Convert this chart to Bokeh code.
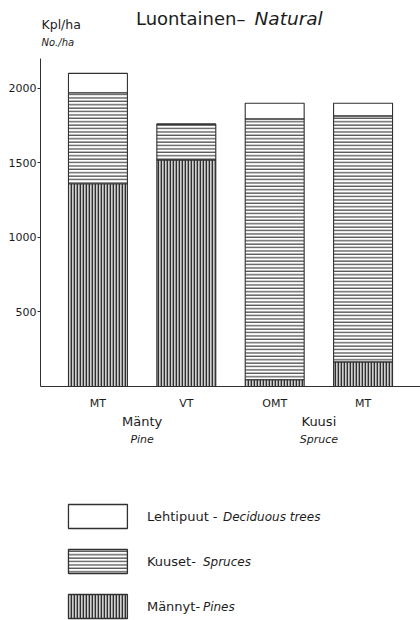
from bokeh.plotting import figure
from bokeh.models import ColumnDataSource, FactorRange, Range1d, FixedTicker, Label
from bokeh.layouts import column
from bokeh.embed import file_html
from bokeh.resources import INLINE
from bokeh.core.properties import value

# Stands: outer group (English), species (Finnish), site type
species_en = ["Pine", "Pine", "Spruce", "Spruce"]
species_fi = ["Mänty", "Mänty", "Kuusi", "Kuusi"]
site_types = ["MT", "VT", "OMT", "MT"]

# Stems per hectare by tree species, stacked bottom to top
pines = [1360, 1520, 45, 165]
spruces = [610, 240, 1750, 1650]
deciduous = [130, 0, 105, 85]

y_ticks = [500, 1000, 1500, 2000]
y_axis_max = 2200

series_keys = ["pines", "spruces", "deciduous"]
series_fi = ["Männyt-", "Kuuset-", "Lehtipuut -"]
series_en = ["Pines", "Spruces", "Deciduous trees"]

# ---- styling ----
FONT = "DejaVu Sans"
INK = "#1c1c1c"
LINE = "#303030"
hatch_patterns = ["vertical_line", "horizontal_line", "blank"]
hatch_scales = [3, 3.4, 3]
hatch_weights = [1.7, 1.1, 1]
fill_colors = ["#cfcfcf", "white", "white"]
BAR_W = 0.667

FRAME_H = 386                      # plot frame spans the canvas top down to the baseline
Y_HEAD = y_axis_max * FRAME_H / 328  # headroom above the axis for the heading texts

stands = list(zip(species_en, species_fi, site_types))
src = ColumnDataSource(dict(stand=stands, pines=pines, spruces=spruces, deciduous=deciduous))

x_range = FactorRange(*stands, factor_padding=0, subgroup_padding=0, group_padding=0,
                      range_padding=0.15, range_padding_units="absolute")

p = figure(width=420, height=450, x_range=x_range, y_range=Range1d(0, Y_HEAD),
           output_backend="svg", toolbar_location=None, title=None,
           min_border_left=40, min_border_right=0, min_border_top=0,
           min_border_bottom=450 - FRAME_H)
p.outline_line_color = None
p.grid.visible = False
p.background_fill_color = "white"
p.border_fill_color = "white"

p.vbar_stack(series_keys, x="stand", width=BAR_W, source=src,
             fill_color=fill_colors, line_color=LINE, line_width=1.1,
             hatch_pattern=hatch_patterns, hatch_scale=hatch_scales,
             hatch_weight=hatch_weights, hatch_color=LINE)

# y axis
yax = p.yaxis[0]
yax.bounds = (0, y_axis_max)
yax.ticker = FixedTicker(ticks=y_ticks)
yax.minor_tick_line_color = None
yax.major_tick_in = 0
yax.major_tick_out = 3
yax.major_label_standoff = 1
yax.axis_line_color = LINE
yax.major_tick_line_color = LINE
yax.major_label_text_font = FONT
yax.major_label_text_font_size = "11px"
yax.major_label_text_color = INK

# x axis: site type / species / English name
xax = p.xaxis[0]
xax.major_tick_in = 0
xax.major_tick_out = 9          # invisible; only offsets the label rows
xax.major_tick_line_color = None
xax.axis_line_color = LINE
xax.separator_line_color = None
xax.major_label_standoff = 1
xax.major_label_text_font = FONT
xax.major_label_text_font_size = "11px"
xax.major_label_text_color = INK
xax.subgroup_text_font = FONT
xax.subgroup_text_font_size = "13px"
xax.subgroup_text_font_style = "normal"
xax.subgroup_text_color = INK
xax.group_text_font = FONT
xax.group_text_font_size = "11px"
xax.group_text_font_style = "italic"
xax.group_text_color = INK

# Heading and unit labels (screen px from the frame's bottom-left)
def add_label(text, x, y, size, style="normal", align="left"):
    p.add_layout(Label(x=x, y=y, x_units="screen", y_units="screen", text=text,
                       text_font=FONT, text_font_size=size, text_font_style=style,
                       text_color=INK, text_align=align, text_baseline="alphabetic"))

add_label("Luontainen–", 205, 368, "18px", align="right")
add_label("Natural", 214, 368, "18.5px", style="italic")
add_label("Kpl/ha", 1, 362, "12.5px")
add_label("No./ha", 1, 344, "10px", style="italic")

# ---- legend panel ----
leg = figure(width=420, height=170, x_range=x_range, y_range=Range1d(170, 0),
             output_backend="svg", toolbar_location=None, title=None,
             x_axis_location=None, y_axis_location=None,
             min_border_left=40, min_border_right=0, min_border_top=0, min_border_bottom=0)
leg.outline_line_color = None
leg.grid.visible = False

row_top, row_gap = 66, 45
order = [2, 1, 0]  # deciduous on top, pines at the bottom
en_x = [202, 202, 222]
swatch_x = stands[0]
for row, i in enumerate(order):
    y = row_top + row * row_gap
    leg.rect(x=[swatch_x], y=[y], width=BAR_W, height=24,
             fill_color=fill_colors[i], line_color=LINE, line_width=1.3,
             hatch_pattern=hatch_patterns[i], hatch_scale=hatch_scales[i],
             hatch_weight=hatch_weights[i], hatch_color=LINE)
    leg.text(x=[swatch_x], y=[y], text=[series_fi[i]], x_offset=49,
             text_font=value(FONT), text_font_size="13px", text_color=INK,
             text_align="left", text_baseline="middle")
    leg.text(x=[swatch_x], y=[y], text=[series_en[i]], x_offset=en_x[i] - 97,
             text_font=value(FONT), text_font_size="12px", text_font_style="italic",
             text_color=INK, text_align="left", text_baseline="middle")

layout = column(p, leg, spacing=0)
open("out.html", "w").write(file_html(layout, INLINE))
